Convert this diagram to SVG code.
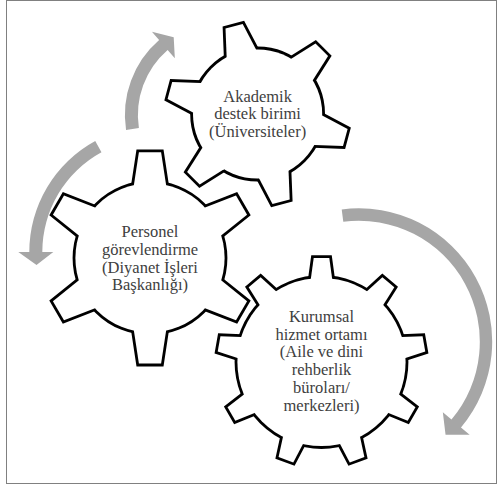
<svg xmlns="http://www.w3.org/2000/svg" xmlns:xlink="http://www.w3.org/1999/xlink" width="498" height="490" viewBox="0 0 498 490">
<style>
.ol{fill:#000;stroke:#000;stroke-width:5.6;stroke-linejoin:miter}
.fl{fill:#fff;stroke:none}
.lbl{font-size:16.5px;fill:#404040;text-anchor:middle}
.arrow{fill:#a6a6a6;stroke:none}
.frame{fill:#fff;stroke:#808080;stroke-width:1}
</style>
<defs>
<circle id="c1" r="64.6"/>
<path id="t1" d="M-15.2,-62.8 L-8.9,-90.8 L8.9,-90.8 L15.2,-62.8 L0,0 Z"/>
<circle id="c2" r="74.6"/>
<path id="t2" d="M-16.1,-72.8 L-11.1,-105.7 L11.1,-105.7 L16.1,-72.8 L0,0 Z"/>
<circle id="c3" r="84.1"/>
<path id="t3" d="M-10.6,-83.4 L-7.8,-104 L7.8,-104 L10.6,-83.4 L0,0 Z"/>
<g id="gear6a">
<use href="#c1"/>
<use href="#t1" transform="rotate(-15)"/><use href="#t1" transform="rotate(45)"/><use href="#t1" transform="rotate(105)"/>
<use href="#t1" transform="rotate(165)"/><use href="#t1" transform="rotate(225)"/><use href="#t1" transform="rotate(285)"/>
</g>
<g id="gear6b">
<use href="#c2"/>
<use href="#t2"/><use href="#t2" transform="rotate(60)"/><use href="#t2" transform="rotate(120)"/>
<use href="#t2" transform="rotate(180)"/><use href="#t2" transform="rotate(240)"/><use href="#t2" transform="rotate(300)"/>
</g>
<g id="gear9">
<use href="#c3"/>
<use href="#t3"/><use href="#t3" transform="rotate(40)"/><use href="#t3" transform="rotate(80)"/>
<use href="#t3" transform="rotate(120)"/><use href="#t3" transform="rotate(160)"/><use href="#t3" transform="rotate(200)"/>
<use href="#t3" transform="rotate(240)"/><use href="#t3" transform="rotate(280)"/><use href="#t3" transform="rotate(320)"/>
</g>
</defs>
<rect class="frame" x="6.5" y="0.5" width="490" height="483"/>
<g id="connectors">
<path class="arrow" d="M126.04,129.99 A99.1,99.1 0 0 1 159.12,40.09 L151.92,31.78 L173.7,37.25 L174.83,58.23 L167.63,49.92 A86.1,86.1 0 0 0 138.89,128.03 Z"/>
<path class="arrow" d="M95.24,140.93 A126.5,126.5 0 0 0 29.3,252 L18.3,252 L36.5,265 L53.3,252 L42.3,252 A113.5,113.5 0 0 1 101.47,152.35 Z"/>
<path class="arrow" d="M341.71,209.39 A133.4,133.4 0 0 1 460.98,427.45 L469.64,434.71 L445.55,434.73 L442.83,412.21 L451.49,419.48 A121,121 0 0 0 343.3,221.69 Z"/>
</g>
<g id="node-akademik" font-family="Liberation Serif, Times New Roman, serif">
<use href="#gear6a" x="257.6" y="114" class="ol"/>
<use href="#gear6a" x="257.6" y="114" class="fl"/>
<text class="lbl" x="257.6" y="101.7">Akademik</text>
<text class="lbl" x="257.6" y="119.2">destek birimi</text>
<text class="lbl" x="257.6" y="136.7">(Üniversiteler)</text>
</g>
<g id="node-personel" font-family="Liberation Serif, Times New Roman, serif">
<use href="#gear6b" x="150" y="257.9" class="ol"/>
<use href="#gear6b" x="150" y="257.9" class="fl"/>
<text class="lbl" x="150" y="237.3">Personel</text>
<text class="lbl" x="150" y="255">görevlendirme</text>
<text class="lbl" x="150" y="272.7">(Diyanet İşleri</text>
<text class="lbl" x="150" y="290.4">Başkanlığı)</text>
</g>
<g id="node-kurumsal" font-family="Liberation Serif, Times New Roman, serif">
<use href="#gear9" x="321.5" y="362" class="ol"/>
<use href="#gear9" x="321.5" y="362" class="fl"/>
<text class="lbl" x="321.5" y="321.7">Kurumsal</text>
<text class="lbl" x="321.5" y="339.5">hizmet ortamı</text>
<text class="lbl" x="321.5" y="357.3">(Aile ve dini</text>
<text class="lbl" x="321.5" y="375.1">rehberlik</text>
<text class="lbl" x="321.5" y="392.9">büroları/</text>
<text class="lbl" x="321.5" y="410.7">merkezleri)</text>
</g>
</svg>
